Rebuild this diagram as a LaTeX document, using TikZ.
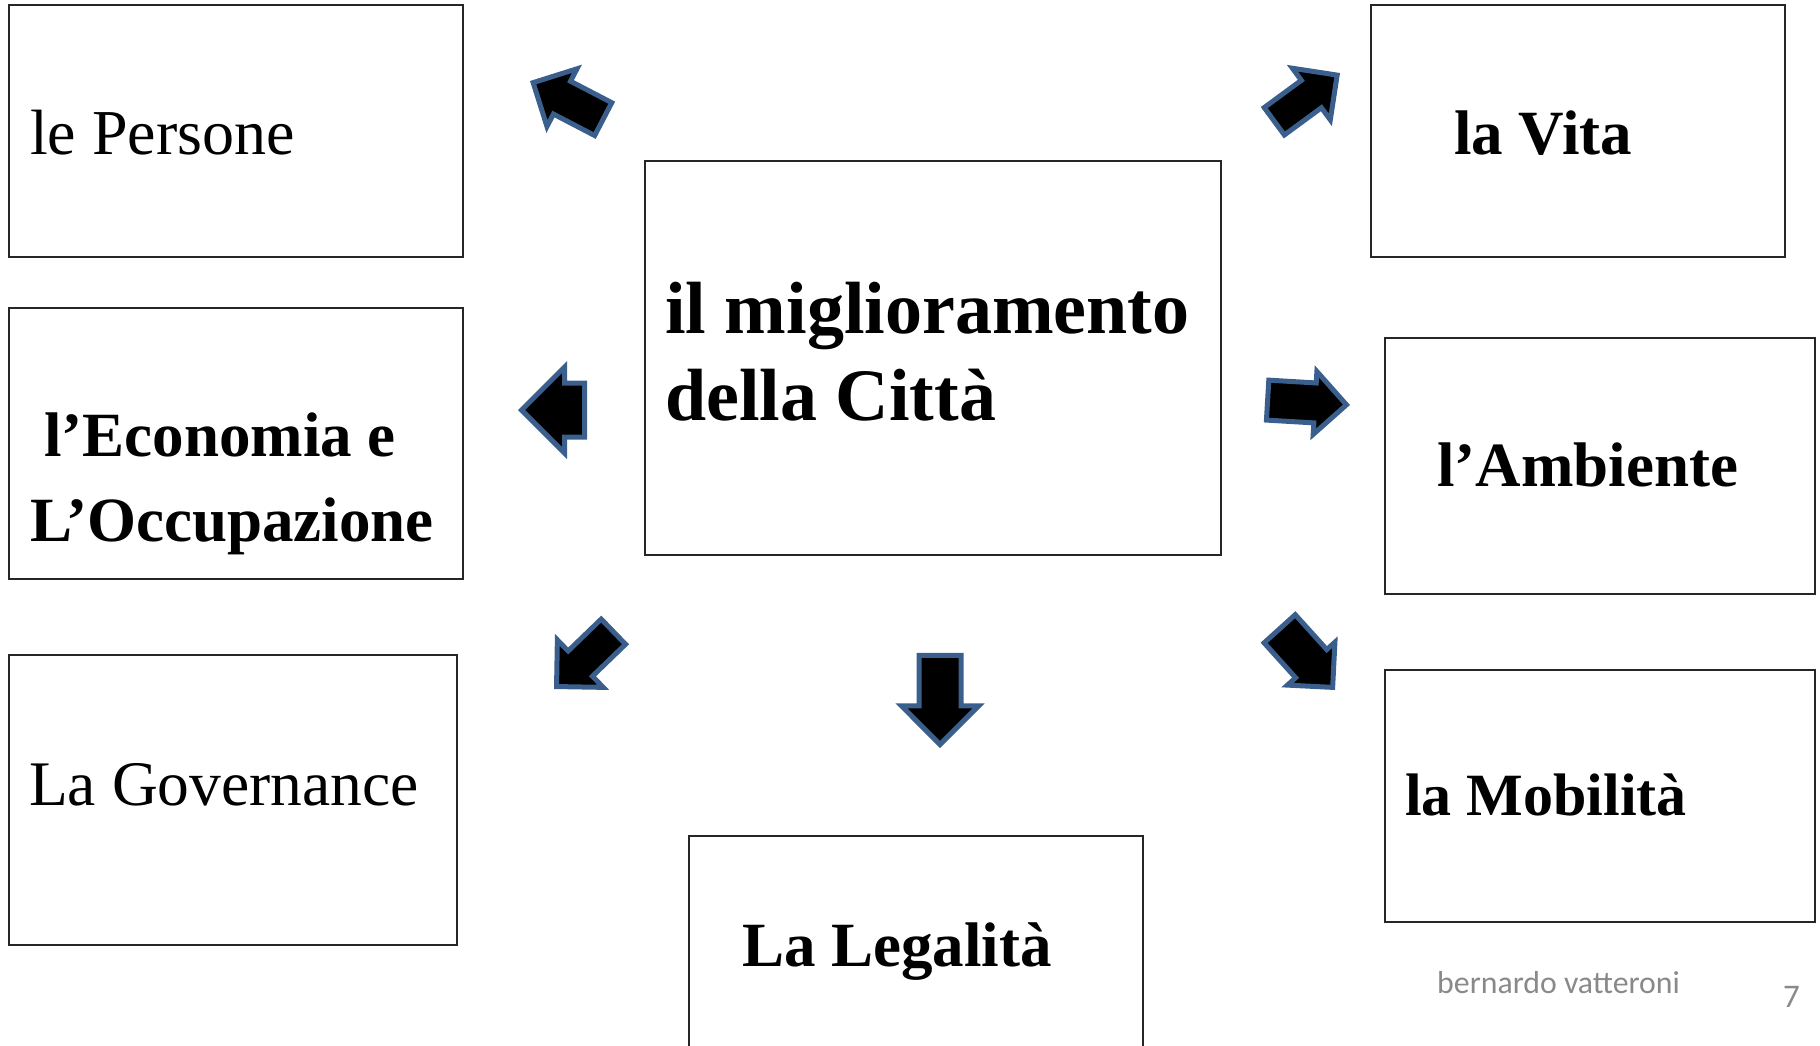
\documentclass[tikz,border=0pt]{standalone}
\usepackage{fontspec}
\setmainfont{Liberation Serif}
\newfontfamily\footfont{Carlito}
\usepackage{tikz}
\usetikzlibrary{shapes.arrows}
\definecolor{arrowblue}{RGB}{58,95,140}
\definecolor{footgray}{RGB}{137,137,137}

\begin{document}
\begin{tikzpicture}[x=1pt,y=-1pt,
    box/.style={draw=black!85,line width=1.6pt,inner sep=0pt},
    big text/.style={anchor=base west,inner sep=0pt,align=left,font=\bfseries\fontsize{63}{85}\selectfont},
    plain text/.style={anchor=base west,inner sep=0pt,font=\fontsize{64}{77}\selectfont},
    blkarrow/.style n args={3}{single arrow,draw=arrowblue,fill=black,line width=5pt,inner xsep=0pt,
      anchor=tip,minimum height=#1,inner ysep=#2,single arrow head extend=#3}]
   \useasboundingbox (0,0) rectangle (1820,1045);
   % boxes
   \node[box,minimum width=454pt,minimum height=252pt] (persone) at (236,131) {};
   \node[box,minimum width=454pt,minimum height=271pt] (economia) at (236,443.5) {};
   \node[box,minimum width=448pt,minimum height=290pt] (governance) at (233,800) {};
   \node[box,minimum width=576pt,minimum height=394pt] (centro) at (933,358) {};
   \node[box,minimum width=454pt,minimum height=224pt] (legalita) at (916,948) {};
   \node[box,minimum width=414pt,minimum height=252pt] (vita) at (1578,131) {};
   \node[box,minimum width=430pt,minimum height=256pt] (ambiente) at (1600,466) {};
   \node[box,minimum width=430pt,minimum height=252pt] (mobilita) at (1600,796) {};
   % texts (base = last line)
   \node[plain text] (tPersone) at (30,154) {le Persone};
   \node[big text] (tEconomia) at (30,541) {\hspace{14pt}l’Economia e\\L’Occupazione};
   \node[plain text,font=\fontsize{63.5}{76}\selectfont] (tGovernance) at (29,805) {La Governance};
   \node[big text,font=\bfseries\fontsize{74}{87}\selectfont] (tCentro) at (665,420) {il miglioramento\\della Città};
   \node[big text] (tLegalita) at (742,966) {La Legalità};
   \node[big text] (tVita) at (1454,154) {la Vita};
   \node[big text] (tAmbiente) at (1437,486) {l’Ambiente};
   \node[big text,font=\bfseries\fontsize{60}{72}\selectfont] (tMobilita) at (1405,815) {la Mobilità};
   \node[anchor=base west,inner sep=0pt,text=footgray,font=\footfont\fontsize{31.8}{38}\selectfont] (autore) at (1437,993) {bernardo vatteroni};
   \node[anchor=base west,inner sep=0pt,text=footgray,font=\footfont\fontsize{33}{40}\selectfont] (pagina) at (1783,1007) {7};
   % block arrows: length, half shaft, head extend (placed by the tip)
   \node[blkarrow={79}{16}{14},rotate=152.5] (aPersone) at (530,81) {};
   \node[blkarrow={63}{24.5}{16},rotate=180] (aEconomia) at (518,410) {};
   \node[blkarrow={79}{15}{15.5},rotate=224] (aGovernance) at (554,689) {};
   \node[blkarrow={89}{18.5}{17.5},rotate=-90] (aLegalita) at (940,748) {};
   \node[blkarrow={78}{14.5}{15},rotate=36.3] (aVita) at (1340,73) {};
   \node[blkarrow={79}{17.5}{11.5},rotate=-3.4] (aAmbiente) at (1350,405) {};
   \node[blkarrow={79}{18.5}{11},rotate=-47.9] (aMobilita) at (1335,690) {};
\end{tikzpicture}
\end{document}
